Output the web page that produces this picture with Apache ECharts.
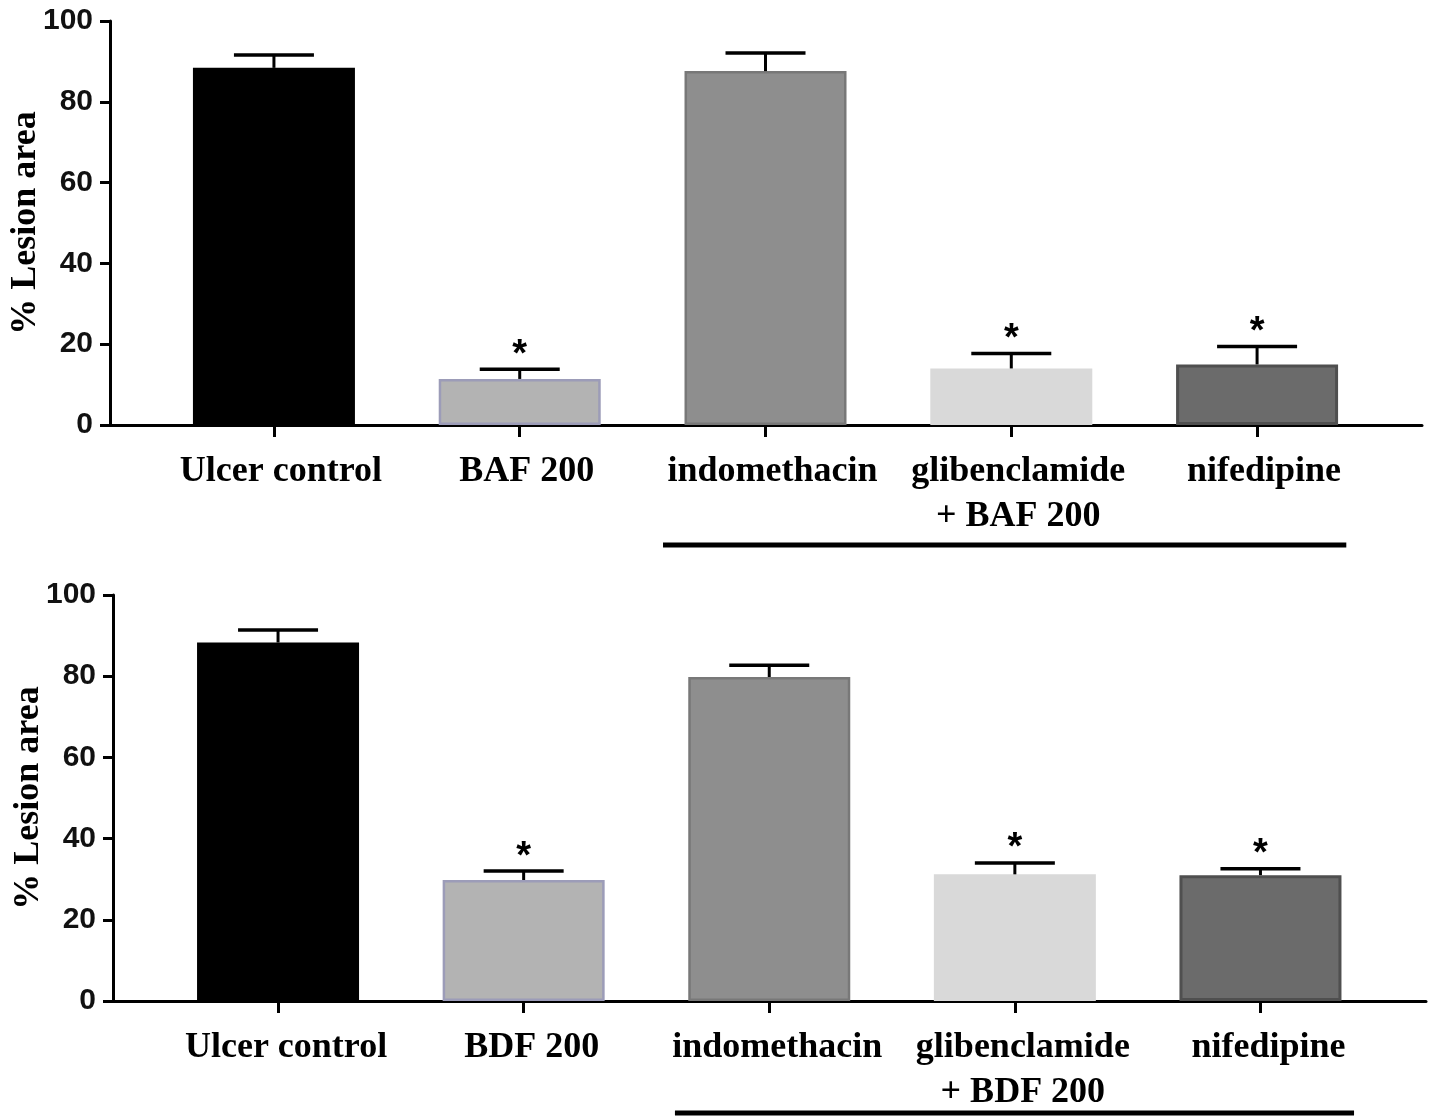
<!DOCTYPE html>
<html>
<head>
<meta charset="utf-8">
<script src="https://cdn.jsdelivr.net/npm/echarts@6/dist/echarts.min.js"></script>
<style>
html,body{margin:0;padding:0;background:#fff;}
#chart{width:1434px;height:1118px;}
</style>
</head>
<body>
<div id="chart"></div>
<script>
// ---- data ----
var categoriesTop = ['Ulcer control', 'BAF 200', 'indomethacin', 'glibenclamide\n+ BAF 200', 'nifedipine'];
var categoriesBottom = ['Ulcer control', 'BDF 200', 'indomethacin', 'glibenclamide\n+ BDF 200', 'nifedipine'];
var meanTop = [88.4, 11.4, 87.6, 14.0, 15.0];
var upperTop = [91.6, 13.8, 92.1, 17.7, 19.4];
var meanBottom = [88.3, 29.8, 79.8, 31.2, 31.0];
var upperBottom = [91.4, 32.0, 82.7, 34.0, 32.6];
var starTop = [false, true, false, true, true];
var starBottom = [false, true, false, true, true];
var yTicks = [0, 20, 40, 60, 80, 100];

// ---- styles ----
var fills = ['#000000', '#b3b3b3', '#8e8e8e', '#d9d9d9', '#6b6b6b'];
var borders = ['#000000', '#9c9cb8', '#787878', '#d9d9d9', '#4f4f4f'];
var borderW = [0, 2.5, 2.5, 0, 3];

var chart = echarts.init(document.getElementById('chart'));

function barData(vals) {
  return vals.map(function (v, i) {
    return {
      value: [i, v],
      itemStyle: { color: fills[i], borderColor: borders[i], borderWidth: borderW[i] }
    };
  });
}
function errData(means, uppers, stars) {
  return means.map(function (v, i) { return [i, v, uppers[i], stars[i] ? 1 : 0]; });
}
function errRender(params, api) {
  var x = api.value(0);
  var top = api.coord([x, api.value(1)]);
  var cap = api.coord([x, api.value(2)]);
  var children = [
    { type: 'line', shape: { x1: top[0], y1: top[1], x2: cap[0], y2: cap[1] }, style: { stroke: '#000', lineWidth: 3 } },
    { type: 'line', shape: { x1: cap[0] - 40, y1: cap[1], x2: cap[0] + 40, y2: cap[1] }, style: { stroke: '#000', lineWidth: 3.5 } }
  ];
  if (api.value(3)) {
    children.push({
      type: 'text',
      style: { text: '*', x: cap[0], y: cap[1] + 5, align: 'center', verticalAlign: 'bottom',
               font: 'bold 38px "Liberation Sans", Arial, sans-serif', fill: '#000' }
    });
  }
  return { type: 'group', children: children };
}

function xAxisCfg(gridIndex, min, max, names, padLeft) {
  return {
    type: 'value', gridIndex: gridIndex, min: min, max: max,
    axisLine: { show: true, onZero: false, lineStyle: { color: '#000', width: 3 } },
    axisTick: { show: true, customValues: [0, 1, 2, 3, 4], length: 12, lineStyle: { color: '#000', width: 3 } },
    axisLabel: {
      show: true, customValues: [0, 1, 2, 3, 4], margin: 24,
      formatter: function (v) { return names[Math.round(v)]; },
      fontFamily: '"Liberation Serif", "Times New Roman", serif', fontWeight: 'bold', fontSize: 36,
      lineHeight: 45, color: '#000', padding: [0, 0, 0, padLeft]
    },
    splitLine: { show: false }
  };
}
function yAxisCfg(gridIndex) {
  return {
    type: 'value', gridIndex: gridIndex, min: 0, max: 100, interval: 20,
    name: '% Lesion area', nameLocation: 'middle', nameGap: 66, nameMoveOverlap: false,
    nameTextStyle: { fontFamily: '"Liberation Serif", "Times New Roman", serif', fontWeight: 'bold', fontSize: 36, color: '#000' },
    axisLine: { show: true, onZero: false, lineStyle: { color: '#000', width: 3 } },
    axisTick: { show: true, length: 10, lineStyle: { color: '#000', width: 3 } },
    axisLabel: { margin: 17, fontFamily: '"Liberation Sans", Arial, sans-serif', fontWeight: 'bold', fontSize: 30, color: '#111',
      formatter: function (v) { return yTicks.indexOf(v) >= 0 ? String(v) : ''; } },
    splitLine: { show: false }
  };
}

var option = {
  animation: false,
  backgroundColor: '#fff',
  grid: [
    { left: 110, top: 21, width: 1312, height: 404, containLabel: false, outerBoundsMode: 'none' },
    { left: 113, top: 595, width: 1313, height: 406, containLabel: false, outerBoundsMode: 'none' }
  ],
  xAxis: [
    xAxisCfg(0, -0.667, 4.671, categoriesTop, 14),
    xAxisCfg(1, -0.672, 4.674, categoriesBottom, 16)
  ],
  yAxis: [yAxisCfg(0), yAxisCfg(1)],
  series: [
    { type: 'bar', xAxisIndex: 0, yAxisIndex: 0, barWidth: 162, data: barData(meanTop) },
    { type: 'custom', xAxisIndex: 0, yAxisIndex: 0, renderItem: errRender, data: errData(meanTop, upperTop, starTop), z: 5 },
    { type: 'bar', xAxisIndex: 1, yAxisIndex: 1, barWidth: 162, data: barData(meanBottom) },
    { type: 'custom', xAxisIndex: 1, yAxisIndex: 1, renderItem: errRender, data: errData(meanBottom, upperBottom, starBottom), z: 5 }
  ]
};
chart.setOption(option);

// group brackets under the last three treatments
function bracket(axisIdx, from, to, below) {
  var x1 = chart.convertToPixel({ xAxisIndex: axisIdx }, from);
  var x2 = chart.convertToPixel({ xAxisIndex: axisIdx }, to);
  var y = chart.convertToPixel({ yAxisIndex: axisIdx }, 0) + below;
  return { type: 'line', shape: { x1: x1, y1: y, x2: x2, y2: y }, style: { stroke: '#000', lineWidth: 5 } };
}
chart.setOption({ graphic: [bracket(0, 1.583, 4.363, 120), bracket(1, 1.616, 4.381, 112)] });
</script>
</body>
</html>
